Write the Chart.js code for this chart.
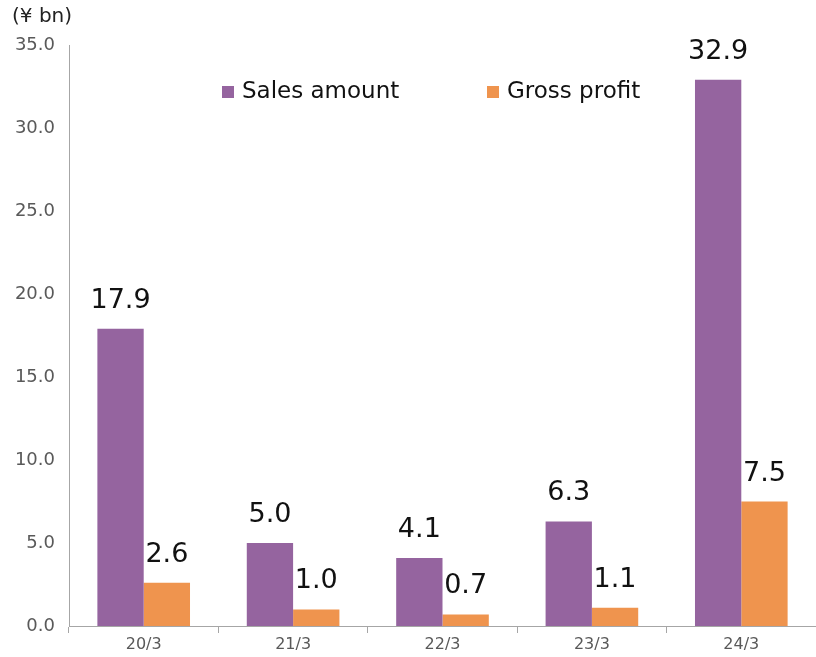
<!DOCTYPE html>
<html>
<head>
<meta charset="utf-8">
<script src="https://cdn.jsdelivr.net/npm/chart.js@4"></script>
<style>
  html, body { margin: 0; padding: 0; background: #fff; }
  #wrap { width: 816px; height: 657px; position: relative; }
</style>
</head>
<body>
<div id="wrap"><canvas id="chart1"></canvas></div>
<script>
const categories = ['20/3', '21/3', '22/3', '23/3', '24/3'];
const salesAmount = [17.9, 5.0, 4.1, 6.3, 32.9];
const grossProfit = [2.6, 1.0, 0.7, 1.1, 7.5];
const seriesNames = ['Sales amount', 'Gross profit'];
const unitLabel = '(¥ bn)';

const purple = '#95649F';
const orange = '#EF944E';
const font = "'DejaVu Sans', Verdana, sans-serif";

// value labels above each bar
const barLabels = {
  id: 'barLabels',
  afterDatasetsDraw(chart) {
    const c = chart.ctx;
    c.save();
    c.font = '27px ' + font;
    c.fillStyle = '#111';
    c.textAlign = 'center';
    c.textBaseline = 'middle';
    chart.data.datasets.forEach((ds, i) => {
      chart.getDatasetMeta(i).data.forEach((bar, j) => {
        c.fillText(ds.data[j].toFixed(1), bar.x, bar.y - 28);
      });
    });
    c.restore();
  }
};

// legend inside the plot + unit text top-left
const extras = {
  id: 'extras',
  afterDraw(chart) {
    const c = chart.ctx;
    const a = chart.chartArea;
    c.save();
    c.font = '20px ' + font;
    c.fillStyle = '#222';
    c.textBaseline = 'middle';
    c.textAlign = 'left';
    c.fillText(unitLabel, 12, 17);

    c.font = '23px ' + font;
    const starts = [a.left + 153, a.left + 418];
    chart.data.datasets.forEach((ds, i) => {
      const x = starts[i];
      const y = a.top + 47;
      c.fillStyle = ds.backgroundColor;
      c.fillRect(x, y - 6, 12, 12);
      c.fillStyle = '#111';
      c.fillText(ds.label, x + 20, y);
    });
    c.restore();
  }
};

new Chart(document.getElementById('chart1'), {
  type: 'bar',
  data: {
    labels: categories,
    datasets: [
      { label: seriesNames[0], data: salesAmount, backgroundColor: purple, borderWidth: 0 },
      { label: seriesNames[1], data: grossProfit, backgroundColor: orange, borderWidth: 0 }
    ]
  },
  options: {
    responsive: true,
    maintainAspectRatio: false,
    animation: false,
    layout: { padding: { top: 45, right: 0, bottom: 0, left: 0 } },
    plugins: { legend: { display: false }, tooltip: { enabled: false } },
    datasets: { bar: { categoryPercentage: 0.62, barPercentage: 1.0 } },
    scales: {
      x: {
        grid: { display: true, offset: true, drawOnChartArea: false, drawTicks: true, tickLength: 7, color: '#a6a6a6' },
        border: { display: true, color: '#a6a6a6' },
        ticks: { color: '#595959', font: { family: font, size: 16 }, padding: 2 },
        afterFit(s) { s.height = 31; }
      },
      y: {
        min: 0,
        max: 35,
        grid: { display: false, drawTicks: false },
        border: { display: true, color: '#a6a6a6' },
        ticks: {
          stepSize: 5,
          color: '#595959',
          font: { family: font, size: 18 },
          padding: 14,
          callback: v => v.toFixed(1)
        },
        afterFit(s) { s.width = 69; }
      }
    }
  },
  plugins: [barLabels, extras]
});
</script>
</body>
</html>
